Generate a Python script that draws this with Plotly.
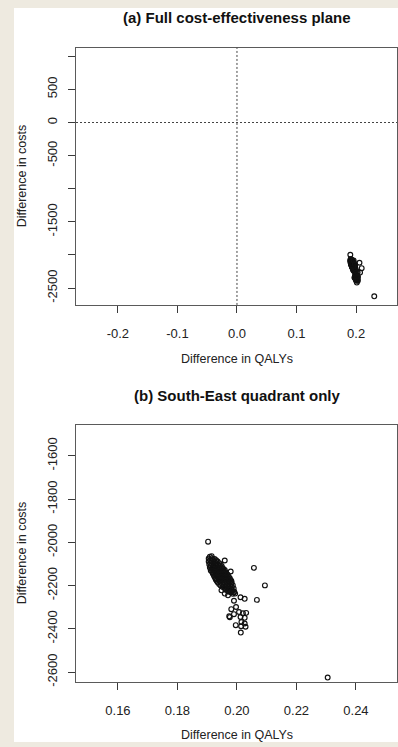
import plotly.graph_objects as go

# ---- data: incremental QALYs and costs (bootstrap replicates) ----
qaly_diff = [
    # dense core of the cloud
    0.1909, 0.1915,
    0.1905, 0.1915, 0.1925,
    0.1910, 0.1920, 0.1930,
    0.1905, 0.1915, 0.1925, 0.1935,
    0.1910, 0.1920, 0.1930, 0.1940,
    0.1907, 0.1917, 0.1927, 0.1937, 0.1945,
    0.1912, 0.1922, 0.1932, 0.1942, 0.1949,
    0.1909, 0.1919, 0.1929, 0.1939, 0.1950,
    0.1914, 0.1924, 0.1934, 0.1944, 0.1954,
    0.1912, 0.1922, 0.1932, 0.1942, 0.1952, 0.1959,
    0.1917, 0.1927, 0.1937, 0.1947, 0.1957, 0.1962,
    0.1919, 0.1929, 0.1939, 0.1949, 0.1959, 0.1965,
    0.1922, 0.1932, 0.1942, 0.1952, 0.1962, 0.1969,
    0.1924, 0.1934, 0.1944, 0.1954, 0.1964, 0.1972,
    0.1927, 0.1937, 0.1947, 0.1957, 0.1967, 0.1976,
    0.1929, 0.1939, 0.1949, 0.1959, 0.1969, 0.1977,
    0.1932, 0.1942, 0.1952, 0.1962, 0.1972, 0.1981,
    0.1935, 0.1945, 0.1955, 0.1965, 0.1976, 0.1982,
    0.1940, 0.1950, 0.1960, 0.1971, 0.1981,
    0.1945, 0.1955, 0.1965, 0.1976, 0.1986,
    0.1952, 0.1962, 0.1972, 0.1982,
    0.1959, 0.1969, 0.1979, 0.1989,
    0.1964, 0.1974, 0.1984,
    0.1972, 0.1982, 0.1991,
    0.1979, 0.1989,
    0.1986, 0.1994,
    # scattered replicates
    0.1903, 0.1959, 0.1979, 0.2057, 0.2094, 0.2067, 0.2026, 0.2012,
    0.1948, 0.1959, 0.1970, 0.1990, 0.1997, 0.1981, 0.2007, 0.1990,
    0.1976, 0.1974, 0.2020, 0.2031, 0.2012, 0.2026, 0.2015, 0.2026,
    0.1996, 0.2029, 0.2014, 0.2013, 0.2305,
]
cost_diff = [
    -2066, -2064,
    -2075, -2074, -2077,
    -2082, -2081, -2083,
    -2089, -2088, -2090, -2089,
    -2096, -2095, -2097, -2096,
    -2103, -2102, -2104, -2103, -2101,
    -2109, -2110, -2108, -2109, -2110,
    -2116, -2117, -2115, -2116, -2118,
    -2123, -2122, -2124, -2123, -2122,
    -2130, -2131, -2129, -2130, -2131, -2128,
    -2137, -2136, -2138, -2137, -2136, -2138,
    -2144, -2143, -2145, -2144, -2143, -2145,
    -2151, -2152, -2150, -2151, -2152, -2150,
    -2158, -2157, -2159, -2158, -2157, -2159,
    -2165, -2164, -2166, -2165, -2164, -2166,
    -2172, -2171, -2173, -2172, -2171, -2173,
    -2178, -2179, -2177, -2178, -2179, -2177,
    -2185, -2186, -2184, -2185, -2186, -2184,
    -2192, -2191, -2193, -2192, -2191,
    -2199, -2198, -2200, -2199, -2198,
    -2206, -2207, -2205, -2206,
    -2213, -2212, -2214, -2213,
    -2220, -2219, -2221,
    -2227, -2226, -2228,
    -2231, -2232,
    -2238, -2237,
    -1997, -2084, -2135, -2118, -2199, -2266, -2261, -2254,
    -2222, -2237, -2245, -2270, -2299, -2309, -2322, -2332,
    -2346, -2342, -2328, -2326, -2345, -2349, -2368, -2375,
    -2383, -2390, -2388, -2417, -2625,
]

# tick labels
top_x_ticks = [-0.2, -0.1, 0.0, 0.1, 0.2]
top_x_labels = ["-0.2", "-0.1", "0.0", "0.1", "0.2"]
top_y_ticks = [1000, 500, 0, -500, -1000, -1500, -2000, -2500]
top_y_labels = ["", "500", "0", "-500", "", "-1500", "", "-2500"]
bot_x_ticks = [0.16, 0.18, 0.20, 0.22, 0.24]
bot_x_labels = ["0.16", "0.18", "0.20", "0.22", "0.24"]
bot_y_ticks = [-1600, -1800, -2000, -2200, -2400, -2600]
bot_y_labels = ["-1600", "-1800", "-2000", "-2200", "-2400", "-2600"]

title_a = "(a) Full cost-effectiveness plane"
title_b = "(b) South-East quadrant only"
x_title = "Difference in QALYs"
y_title = "Difference in costs"

W, H = 398, 747
FONT = "Liberation Sans, Arial, sans-serif"
BEIGE = "#EEEAE0"


def px_x(px):
    return px / W


def px_y(py):
    return 1 - py / H


marker = dict(symbol="circle-open", size=4.8, color="#111111", line=dict(width=1.15))

fig = go.Figure()
fig.add_trace(go.Scatter(x=qaly_diff, y=cost_diff, mode="markers", marker=marker,
                         xaxis="x", yaxis="y", showlegend=False, hoverinfo="skip"))
fig.add_trace(go.Scatter(x=qaly_diff, y=cost_diff, mode="markers", marker=marker,
                         xaxis="x2", yaxis="y2", showlegend=False, hoverinfo="skip"))

axis_common = dict(
    showgrid=False, zeroline=False, showline=True, mirror=True,
    linecolor="#5a5a5a", linewidth=1.3,
    ticks="outside", ticklen=7, tickwidth=1.3, tickcolor="#3a3a3a",
    tickfont=dict(family=FONT, size=13, color="#222222"),
    tickmode="array",
)
xaxis_extra = dict(ticklabelstandoff=9)
yaxis_extra = dict(ticklabelstandoff=6, tickangle=-90)

fig.update_layout(
    width=W, height=H, autosize=False,
    margin=dict(l=0, r=0, t=0, b=0),
    paper_bgcolor=BEIGE, plot_bgcolor="white",
    xaxis=dict(axis_common, **xaxis_extra, domain=[px_x(76), px_x(397)], range=[-0.2703, 0.2687],
               tickvals=top_x_ticks, ticktext=top_x_labels, anchor="y"),
    yaxis=dict(axis_common, **yaxis_extra, domain=[px_y(307), px_y(48)], range=[-2755, 1130],
               tickvals=top_y_ticks, ticktext=top_y_labels, anchor="x"),
    xaxis2=dict(axis_common, **xaxis_extra, domain=[px_x(76), px_x(397)], range=[0.1459, 0.2538],
                tickvals=bot_x_ticks, ticktext=bot_x_labels, anchor="y2"),
    yaxis2=dict(axis_common, **yaxis_extra, domain=[px_y(686.7), px_y(427.5)], range=[-2646, -1456],
                tickvals=bot_y_ticks, ticktext=bot_y_labels, anchor="x2"),
)

# white panel on beige page
fig.add_shape(type="rect", xref="paper", yref="paper", x0=px_x(14), x1=1.0, y0=0, y1=px_y(8),
              fillcolor="white", line=dict(width=0), layer="below")

# dotted reference lines at zero (top panel)
fig.add_shape(type="line", xref="x", yref="y domain", x0=0, x1=0, y0=0, y1=1,
              line=dict(color="#444444", width=1, dash="2px,2px"))
fig.add_shape(type="line", xref="x domain", yref="y", x0=0, x1=1, y0=0, y1=0,
              line=dict(color="#444444", width=1, dash="2px,2px"))

ann = []
ann.append(dict(text="<b>%s</b>" % title_a, x=px_x(237), y=px_y(18)))
ann.append(dict(text="<b>%s</b>" % title_b, x=px_x(237), y=px_y(398)))
for a in ann:
    a.update(font=dict(family=FONT, size=15, color="#111111"))
axis_ann = [
    dict(text=x_title, x=px_x(237), y=px_y(361)),
    dict(text=x_title, x=px_x(237), y=px_y(740)),
    dict(text=y_title, x=px_x(22), y=px_y(177.5), textangle=-90),
    dict(text=y_title, x=px_x(22), y=px_y(557), textangle=-90),
]
for a in axis_ann:
    a.update(font=dict(family=FONT, size=12.5, color="#222222"))
for a in ann + axis_ann:
    a.update(xref="paper", yref="paper", showarrow=False, xanchor="center", yanchor="middle")
fig.update_layout(annotations=ann + axis_ann)

fig.write_html(
    "out.html",
    config={"displayModeBar": False},
    post_script="document.body.style.margin='0';document.body.style.padding='0';"
                "document.body.style.background='%s';" % BEIGE,
)
